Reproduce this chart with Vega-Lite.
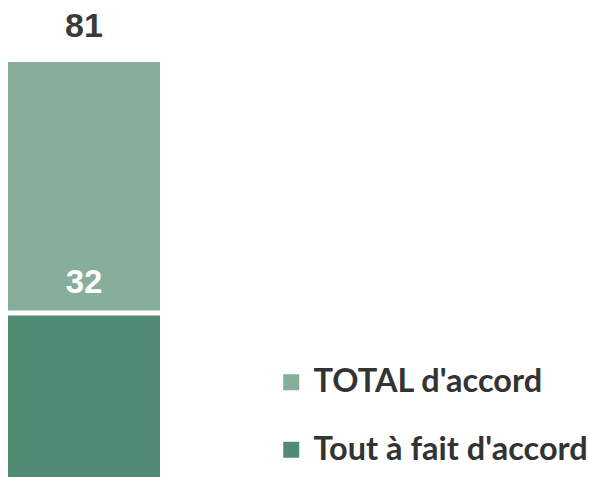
{
  "$schema": "https://vega.github.io/schema/vega-lite/v6.json",
  "autosize": {"type": "none"},
  "width": 152,
  "height": 415,
  "padding": {"left": 8, "top": 62, "right": 431, "bottom": 0},
  "background": "white",
  "config": {"view": {"stroke": null}},
  "data": {"values": [
    {"category": "TOTAL d'accord", "value": 81},
    {"category": "Tout à fait d'accord", "value": 32}
  ]},
  "encoding": {
    "x": {"datum": "Q", "type": "nominal", "axis": null, "scale": {"paddingInner": 0, "paddingOuter": 0}},
    "y": {"field": "value", "type": "quantitative", "axis": null, "scale": {"domain": [0, 81], "nice": false}}
  },
  "layer": [
    {
      "transform": [{"filter": "datum.category === \"TOTAL d'accord\""}],
      "mark": {"type": "bar"},
      "encoding": {
        "color": {"field": "category", "type": "nominal",
          "scale": {"domain": ["TOTAL d'accord", "Tout à fait d'accord"], "range": ["#86ae9a", "#528b74"]},
          "legend": {"orient": "none", "legendX": 267, "legendY": 304, "title": null, "padding": 0,
            "symbolType": "square", "symbolSize": 256, "symbolStrokeWidth": 0, "symbolOpacity": 1,
            "labelFont": "Lato", "labelFontSize": 32.5, "labelFontWeight": "bold", "labelColor": "#333333",
            "labelOffset": 6, "rowPadding": 34.5, "labelLimit": 400}}
      }
    },
    {
      "transform": [{"filter": "datum.category === \"Tout à fait d'accord\""}],
      "mark": {"type": "bar"},
      "encoding": {"color": {"field": "category", "type": "nominal"}}
    },
    {
      "transform": [{"filter": "datum.category === \"Tout à fait d'accord\""}],
      "mark": {"type": "rule", "color": "white", "strokeWidth": 5},
      "encoding": {"x": null}
    },
    {
      "transform": [{"filter": "datum.category === \"TOTAL d'accord\""}],
      "mark": {"type": "text", "font": "Liberation Sans", "fontWeight": "bold", "fontSize": 34, "color": "#3a3a3a", "baseline": "middle", "dy": -35},
      "encoding": {"text": {"field": "value", "type": "quantitative"}}
    },
    {
      "transform": [{"filter": "datum.category === \"Tout à fait d'accord\""}],
      "mark": {"type": "text", "font": "Liberation Sans", "fontWeight": "bold", "fontSize": 33, "color": "white", "baseline": "middle", "dy": -30},
      "encoding": {"text": {"field": "value", "type": "quantitative"}}
    }
  ]
}
